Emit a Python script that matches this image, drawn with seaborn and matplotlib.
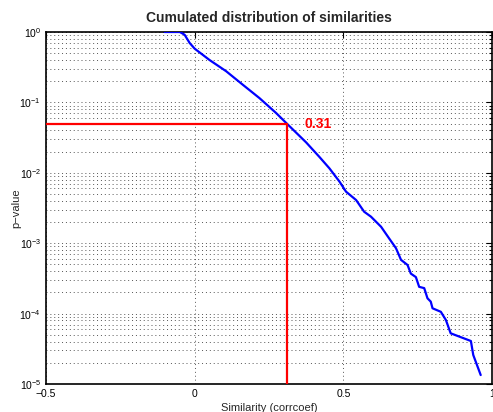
import numpy as np
import pandas as pd
import matplotlib
matplotlib.use("Agg")
import matplotlib.pyplot as plt
import seaborn as sns
from matplotlib.ticker import LogLocator, NullFormatter, FixedLocator

# Empirical tail of the similarity distribution
similarity = [-0.101, -0.050, -0.034, -0.017, 0.000, 0.050, 0.106, 0.162, 0.218, 0.274,
              0.310, 0.375,
              0.419, 0.453, 0.487, 0.509, 0.543, 0.570, 0.593, 0.627, 0.654, 0.677,
              0.694, 0.716, 0.727, 0.744, 0.755, 0.772, 0.783, 0.794, 0.800, 0.828,
              0.845, 0.861, 0.929, 0.937, 0.962]
p_value = [1.0, 1.0, 0.916, 0.70, 0.58, 0.40, 0.277, 0.178, 0.115, 0.0706,
           0.05, 0.027,
           0.0169, 0.0116, 0.0075, 0.0054, 0.0041, 0.0028, 0.00238, 0.00171, 0.00117, 0.00085,
           0.00058, 0.00049, 0.00037, 0.00033, 0.00024, 0.00023, 0.000165, 0.000148, 0.000119, 0.000106,
           0.000081, 0.0000525, 0.0000408, 0.0000258, 0.0000134]

threshold_p = 0.05
threshold_sim = 0.31
x_ticks = [-0.5, 0, 0.5, 1]
x_tick_labels = ["\u22120.5", "0", "0.5", "1"]

sns.set_style("white")
plt.rcParams["font.family"] = ["Liberation Sans", "DejaVu Sans"]

fig = plt.figure(figsize=(4.93, 4.12), dpi=100)
ax = fig.add_axes([46 / 493, 1 - 384 / 412, 446 / 493, 352 / 412])

df = pd.DataFrame({"sim": similarity, "p": p_value})
sns.lineplot(data=df, x="sim", y="p", ax=ax, color="#0000ff", linewidth=1.6,
             estimator=None, sort=False, zorder=3)

# Significance threshold guides
ax.plot([-0.5, threshold_sim], [threshold_p, threshold_p], color="#ff0000", lw=1.6, zorder=4)
ax.plot([threshold_sim, threshold_sim], [threshold_p, 1e-5], color="#ff0000", lw=1.6, zorder=4)
ax.text(threshold_sim + 0.06, threshold_p, f"{threshold_sim:.2f}", color="#ff0000",
        fontsize=10, fontweight="bold", va="center", ha="left")

ax.set_yscale("log")
ax.set_xlim(-0.5, 1)
ax.set_ylim(1e-5, 1)
ax.xaxis.set_major_locator(FixedLocator(x_ticks))
ax.set_xticklabels(x_tick_labels)
ax.yaxis.set_major_locator(LogLocator(base=10, numticks=10))
ax.yaxis.set_minor_locator(LogLocator(base=10, subs=np.arange(2, 10), numticks=20))
ax.yaxis.set_minor_formatter(NullFormatter())

ax.grid(True, which="major", axis="both", linestyle=(0, (1, 3)), color="#555555", lw=0.7)
ax.grid(True, which="minor", axis="y", linestyle=(0, (1, 3)), color="#555555", lw=0.7)

ax.tick_params(axis="both", which="both", direction="in", top=True, right=True,
               labelsize=7.5, colors="black", width=0.8)
ax.tick_params(which="major", length=4)
ax.tick_params(which="minor", length=2)
for s in ax.spines.values():
    s.set_color("black")
    s.set_linewidth(1.2)

ax.set_xlabel("Similarity (corrcoef)", fontsize=8, labelpad=3)
ax.set_ylabel("p\u2212value", fontsize=8)
ax.yaxis.set_label_coords(-25 / 446, 0.5)
ax.set_title("Cumulated distribution of similarities", fontsize=10, fontweight="bold", pad=7)

fig.savefig("out.png", dpi=100, facecolor="white")
